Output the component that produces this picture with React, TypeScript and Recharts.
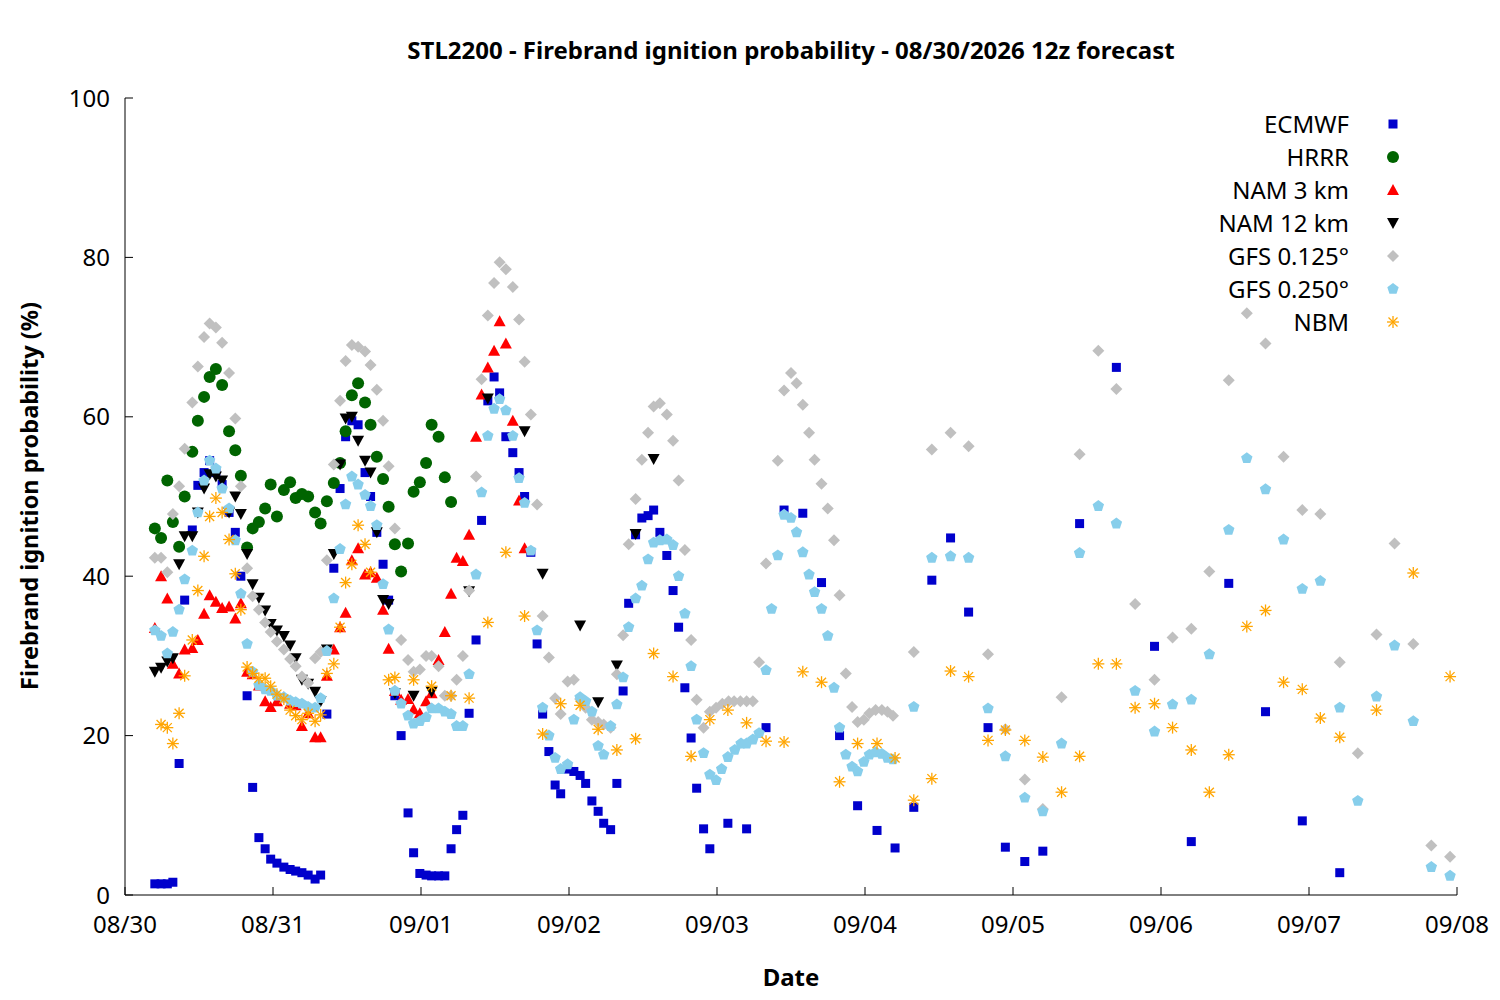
import React from "react"
import { ScatterChart, Scatter, XAxis, YAxis } from "recharts"

// Times below were read in chart units of 1/24 of 166.5 px; one real hour is 148/24 px,
// so each time is converted to hours since 08/30 00z with HOUR_SCALE.
const HOUR_SCALE = 166.5 / 148

// [time, probability %]
const ecmwf: [number, number][] = [
  [4.3, 1.4], [5.2, 1.4], [6.1, 1.4], [6.9, 1.6], [7.8, 16.5], [8.6, 37], [9.7, 45.8], [10.5, 51.4], [11.4, 53], [12.2, 54.5],
  [13.1, 53], [14.0, 51.5], [15.0, 48], [15.9, 45.5], [16.7, 40], [17.6, 25], [18.4, 13.5], [19.3, 7.2], [20.2, 5.8], [21.0, 4.5],
  [21.9, 4], [22.9, 3.5], [23.8, 3.2], [24.6, 3], [25.5, 2.8], [26.4, 2.5], [27.4, 2.0], [28.2, 2.5], [29.1, 22.7], [30.1, 41],
  [31.0, 51], [31.8, 57.5], [32.7, 59.5], [33.6, 59], [34.6, 53], [35.4, 50], [36.3, 45.5], [37.2, 41.5], [38.0, 37], [38.9, 25],
  [39.8, 20], [40.8, 10.3], [41.6, 5.3], [42.5, 2.7], [43.4, 2.5], [44.2, 2.4], [45.2, 2.4], [46.1, 2.4], [47.0, 5.8], [47.8, 8.2],
  [48.7, 10], [49.6, 22.8], [50.6, 32], [51.4, 47], [52.3, 62], [53.2, 65], [54.0, 63], [54.9, 57.5], [55.9, 55.5], [56.8, 53],
  [57.6, 50], [58.5, 43], [59.4, 31.5], [60.2, 22.7], [61.1, 18], [62.0, 13.8], [62.8, 12.7], [63.8, 15.8], [64.7, 15.5], [65.6, 15],
  [66.4, 14], [67.3, 11.8], [68.2, 10.5], [69.0, 9], [70.0, 8.2], [70.9, 14], [71.8, 25.6], [72.6, 36.6], [73.6, 45.2], [74.5, 47.3],
  [75.4, 47.6], [76.2, 48.3], [77.1, 45.5], [78.1, 42.6], [79.0, 38.2], [79.8, 33.6], [80.7, 26], [81.6, 19.7], [82.4, 13.4], [83.4, 8.3],
  [84.3, 5.8], [86.9, 9], [89.6, 8.3], [92.4, 21], [95.0, 48.3], [97.7, 47.9], [100.4, 39.2], [103.0, 20], [105.6, 11.2], [108.4, 8.1],
  [111.0, 5.9], [113.7, 11], [116.3, 39.5], [119.0, 44.8], [121.6, 35.5], [124.4, 21], [126.9, 6], [129.7, 4.2], [132.3, 5.5], [137.6, 46.6],
  [142.9, 66.2], [148.4, 31.2], [153.7, 6.7], [159.1, 39.1], [164.4, 23], [169.7, 9.3], [175.1, 2.8],
]

const hrrr: [number, number][] = [
  [4.3, 46], [5.2, 44.8], [6.1, 52], [6.9, 46.8], [7.8, 43.7], [8.6, 50], [9.7, 55.6], [10.5, 59.5], [11.4, 62.5], [12.2, 65],
  [13.1, 66], [14.0, 64], [15.0, 58.2], [15.9, 55.8], [16.7, 52.6], [17.6, 43.6], [18.4, 46], [19.3, 46.8], [20.2, 48.5], [21.0, 51.5],
  [21.9, 47.5], [22.9, 50.8], [23.8, 51.8], [24.6, 49.8], [25.5, 50.3], [26.4, 50], [27.4, 48], [28.2, 46.6], [29.1, 49.4], [30.1, 51.7],
  [31.0, 54.2], [31.8, 58.2], [32.7, 62.7], [33.6, 64.2], [34.6, 61.8], [35.4, 59], [36.3, 55], [37.2, 52.2], [38.0, 48.7], [38.9, 44],
  [39.8, 40.6], [40.8, 44.1], [41.6, 50.6], [42.5, 51.8], [43.4, 54.2], [44.2, 59], [45.2, 57.5], [46.1, 52.4], [47.0, 49.3],
]

const nam3: [number, number][] = [
  [4.3, 33.5], [5.2, 40], [6.1, 37.2], [6.9, 29], [7.8, 27.8], [8.6, 30.8], [9.7, 31], [10.5, 32], [11.4, 35.3], [12.2, 37.6],
  [13.1, 36.8], [14.0, 36], [15.0, 36.2], [15.9, 34.7], [16.7, 36.6], [17.6, 28], [18.4, 27.7], [19.3, 26.3], [20.2, 24.3], [21.0, 23.6],
  [21.9, 24.3], [22.9, 24.8], [23.8, 24], [24.6, 23.8], [25.5, 21.2], [26.4, 22.8], [27.4, 19.8], [28.2, 19.8], [29.1, 27.5], [30.1, 30.8],
  [31.0, 33.6], [31.8, 35.4], [32.7, 42], [33.6, 43.5], [34.6, 40.2], [35.4, 40.5], [36.3, 39.8], [37.2, 35.8], [38.0, 30.9], [38.9, 25.6],
  [39.8, 24.5], [40.8, 24.6], [41.6, 23.3], [42.5, 22.8], [43.4, 24.3], [44.2, 25.3], [45.2, 29.5], [46.1, 33], [47.0, 37.8], [47.8, 42.3],
  [48.7, 41.9], [49.6, 45.2], [50.6, 57.5], [51.4, 62.8], [52.3, 66.2], [53.2, 68.3], [54.0, 72], [54.9, 69.2], [55.9, 59.5], [56.8, 49.5],
  [57.6, 43.5],
]

const nam12: [number, number][] = [
  [4.3, 28], [5.2, 28.5], [6.1, 29.3], [6.9, 29.7], [7.8, 41.5], [8.6, 45], [9.7, 45], [10.5, 48], [11.4, 51], [12.2, 52.8],
  [13.1, 52.5], [14.0, 52], [15.0, 48], [15.9, 50], [16.7, 47.8], [17.6, 42.8], [18.4, 39], [19.3, 37.3], [20.2, 35.7], [21.0, 34],
  [21.9, 33.2], [22.9, 32.5], [23.8, 31.3], [24.6, 29.7], [25.5, 27], [26.4, 26.5], [27.4, 25.5], [28.2, 24.3], [29.1, 30.8], [30.1, 42.8],
  [31.0, 54], [31.8, 59.8], [32.7, 60], [33.6, 57], [34.6, 54.5], [35.4, 53], [36.3, 45.5], [37.2, 37], [38.0, 36.5], [38.9, 25.3],
  [41.6, 25], [44.2, 25.5], [49.6, 38.1], [52.3, 62.3], [57.6, 58.2], [60.2, 40.3], [65.6, 33.8], [68.2, 24.2], [70.9, 28.8], [73.6, 45.3],
  [76.2, 54.7],
]

const gfs0125: [number, number][] = [
  [4.3, 42.3], [5.2, 42.3], [6.1, 40.5], [6.9, 47.8], [7.8, 51.3], [8.6, 56], [9.7, 61.8], [10.5, 66.3], [11.4, 70], [12.2, 71.7],
  [13.1, 71.2], [14.0, 69.3], [15.0, 65.5], [15.9, 59.8], [16.7, 51.3], [17.6, 41], [18.4, 37.5], [19.3, 35.8], [20.2, 34.2], [21.0, 33],
  [21.9, 31.8], [22.9, 30.8], [23.8, 29.6], [24.6, 28.7], [25.5, 27.4], [26.4, 26.6], [27.4, 29.7], [28.2, 30.5], [29.1, 42], [30.1, 54],
  [31.0, 62], [31.8, 67], [32.7, 69], [33.6, 68.8], [34.6, 68.2], [35.4, 66.5], [36.3, 63.4], [37.2, 59.5], [38.0, 53.8], [38.9, 46],
  [39.8, 32], [40.8, 29.5], [41.6, 28], [42.5, 28.3], [43.4, 30], [44.2, 30], [45.2, 28.7], [46.1, 25], [47.0, 25], [47.8, 27],
  [48.7, 30], [49.6, 38.2], [50.6, 52.5], [51.4, 64.7], [52.3, 72.7], [53.2, 76.8], [54.0, 79.4], [54.9, 78.5], [55.9, 76.3], [56.8, 72.2],
  [57.6, 66.9], [58.5, 60.3], [59.4, 49], [60.2, 35], [61.1, 29.8], [62.0, 24.7], [62.8, 22.7], [63.8, 26.8], [64.7, 27], [65.6, 24.6],
  [66.4, 23.5], [67.3, 22], [68.2, 21.7], [69.0, 21.4], [70.0, 21], [70.9, 27.7], [71.8, 32.6], [72.6, 44], [73.6, 49.7], [74.5, 54.6],
  [75.4, 58], [76.2, 61.3], [77.1, 61.7], [78.1, 60.3], [79.0, 57], [79.8, 52], [80.7, 43.3], [81.6, 32], [82.4, 24.5], [83.4, 21],
  [84.3, 23], [85.2, 23.5], [86.1, 24], [87.0, 24.3], [87.8, 24.3], [88.7, 24.3], [89.6, 24.3], [90.5, 24.3], [91.4, 29.2], [92.4, 41.6],
  [94.1, 54.5], [95.0, 63.3], [96.0, 65.5], [96.8, 64.2], [97.7, 61.5], [98.6, 58], [99.4, 54.6], [100.4, 51.6], [101.3, 48.5], [102.2, 44.5],
  [103.0, 37.6], [103.9, 27.8], [104.8, 23.6], [105.6, 21.7], [106.5, 22], [107.3, 22.8], [108.2, 23.2], [109.1, 23.2], [109.9, 23], [110.7, 22.5],
  [113.7, 30.5], [116.3, 55.9], [119.0, 58], [121.6, 56.3], [124.4, 30.2], [126.9, 20.8], [129.7, 14.5], [132.3, 10.8], [135.0, 24.8], [137.6, 55.3],
  [140.3, 68.3], [142.9, 63.5], [145.6, 36.5], [148.4, 27], [151.0, 32.3], [153.7, 33.4], [156.3, 40.6], [159.1, 64.6], [161.7, 73], [164.4, 69.2],
  [167.0, 55], [169.7, 48.3], [172.3, 47.8], [175.1, 29.2], [177.7, 17.8], [180.4, 32.7], [183.0, 44.1], [185.7, 31.5], [188.3, 6.2], [191.0, 4.8],
]

const gfs0250: [number, number][] = [
  [4.3, 33.2], [5.2, 32.5], [6.1, 30.3], [6.9, 33], [7.8, 35.8], [8.6, 39.6], [9.7, 43.2], [10.5, 48], [11.4, 52], [12.2, 54.5],
  [13.1, 53.5], [14.0, 51], [15.0, 48.5], [15.9, 44.5], [16.7, 37.8], [17.6, 31.5], [18.4, 28], [19.3, 26.3], [20.2, 25.8], [21.0, 25.6],
  [21.9, 25], [22.9, 24.8], [23.8, 24.4], [24.6, 24.2], [25.5, 24], [26.4, 23.6], [27.4, 23.5], [28.2, 24.7], [29.1, 30.6], [30.1, 37.2],
  [31.0, 43.4], [31.8, 49], [32.7, 52.5], [33.6, 51.5], [34.6, 50.2], [35.4, 48.8], [36.3, 46.4], [37.2, 39], [38.0, 33.3], [38.9, 25.6],
  [39.8, 24], [40.8, 22.5], [41.6, 21.5], [42.5, 21.8], [43.4, 22.3], [44.2, 23.4], [45.2, 23.4], [46.1, 23], [47.0, 22.7], [47.8, 21.2],
  [48.7, 21.2], [49.6, 27.7], [50.6, 40.2], [51.4, 50.5], [52.3, 57.6], [53.2, 61], [54.0, 62.2], [54.9, 60.8], [55.9, 57.6], [56.8, 52.3],
  [57.6, 49.2], [58.5, 43.2], [59.4, 33.2], [60.2, 23.5], [61.1, 20], [62.0, 17.2], [62.8, 15.8], [63.8, 16.4], [64.7, 22], [65.6, 24.8],
  [66.4, 24.3], [67.3, 23], [68.2, 18.7], [69.0, 17.6], [70.0, 21.2], [70.9, 23.9], [71.8, 27.3], [72.6, 33.6], [73.6, 37.2], [74.5, 38.8],
  [75.4, 42.1], [76.2, 44.2], [77.1, 44.5], [78.1, 44.6], [79.0, 43.9], [79.8, 40], [80.7, 35.3], [81.6, 28.7], [82.4, 22], [83.4, 17.8],
  [84.3, 15.1], [85.2, 14.4], [86.0, 15.8], [86.9, 17.3], [87.9, 18.2], [88.8, 19], [89.6, 19], [90.5, 19.5], [91.4, 20.3], [92.4, 28.2],
  [93.2, 35.9], [94.1, 42.6], [95.0, 47.7], [96.0, 47.3], [96.8, 45.5], [97.7, 43], [98.6, 40.2], [99.4, 38], [100.4, 35.9], [101.3, 32.5],
  [102.2, 26], [103.0, 21], [103.9, 17.6], [104.8, 16.1], [105.6, 15.5], [106.5, 16.7], [107.3, 17.6], [108.2, 17.9], [109.1, 17.7], [109.9, 17.2],
  [110.7, 17], [113.7, 23.6], [116.3, 42.3], [119.0, 42.5], [121.6, 42.3], [124.4, 23.4], [126.9, 17.4], [129.7, 12.2], [132.3, 10.5], [135.0, 19],
  [137.6, 42.9], [140.3, 48.8], [142.9, 46.6], [145.6, 25.6], [148.4, 20.5], [151.0, 23.9], [153.7, 24.5], [156.3, 30.2], [159.1, 45.8], [161.7, 54.8],
  [164.4, 50.9], [167.0, 44.6], [169.7, 38.4], [172.3, 39.4], [175.1, 23.5], [177.7, 11.8], [180.4, 24.9], [183.0, 31.3], [185.7, 21.8], [188.3, 3.5],
  [191.0, 2.4],
]

const nbm: [number, number][] = [
  [5.2, 21.4], [6.1, 21], [6.9, 19], [7.8, 22.8], [8.6, 27.5], [9.7, 32], [10.5, 38.2], [11.4, 42.5], [12.2, 47.5], [13.1, 49.8],
  [14.0, 48], [15.0, 44.6], [15.9, 40.3], [16.7, 35.8], [17.6, 28.6], [18.4, 27.8], [19.3, 27.2], [20.2, 27.2], [21.0, 26.2], [21.9, 25.2],
  [22.9, 24.6], [23.8, 23.2], [24.6, 22.5], [25.5, 22], [26.4, 22.8], [27.4, 21.8], [28.2, 22.6], [29.1, 27.8], [30.1, 29], [31.0, 33.6],
  [31.8, 39.2], [32.7, 41.5], [33.6, 46.4], [34.6, 44], [35.4, 40.5], [38.0, 27], [38.9, 27.3], [41.6, 27], [44.2, 26.2], [47.0, 25],
  [49.6, 24.7], [52.3, 34.2], [54.9, 43], [57.6, 35], [60.2, 20.2], [62.8, 24], [65.6, 23.8], [68.2, 20.8], [70.9, 18.2], [73.6, 19.6],
  [76.2, 30.3], [79.0, 27.4], [81.6, 17.4], [84.3, 22], [86.9, 23.2], [89.6, 21.6], [92.4, 19.3], [95.0, 19.2], [97.7, 28], [100.4, 26.7],
  [103.0, 14.2], [105.6, 19], [108.4, 19], [111.0, 17.2], [113.7, 11.9], [116.3, 14.6], [119.0, 28.1], [121.6, 27.4], [124.4, 19.4], [126.9, 20.7],
  [129.7, 19.4], [132.3, 17.3], [135.0, 12.9], [137.6, 17.4], [140.3, 29], [142.9, 29], [145.6, 23.5], [148.4, 24], [151.0, 21], [153.7, 18.2],
  [156.3, 12.9], [159.1, 17.6], [161.7, 33.7], [164.4, 35.7], [167.0, 26.7], [169.7, 25.8], [172.3, 22.2], [175.1, 19.8], [180.4, 23.2], [185.7, 40.4],
  [191.0, 27.4],
]

const xTicks = [0, 24, 48, 72, 96, 120, 144, 168, 192, 216]
const xTickLabels = ["08/30", "08/31", "09/01", "09/02", "09/03", "09/04", "09/05", "09/06", "09/07", "09/08"]
const yTicks = [0, 20, 40, 60, 80, 100]

const FONT = "'Noto Sans', sans-serif"

type Sym = "square" | "circle" | "up" | "down" | "diamond" | "pentagon" | "star"

const drawSymbol = (kind: Sym, color: string, cx: number, cy: number) => {
  switch (kind) {
    case "square":
      return <rect x={cx - 4.5} y={cy - 4.5} width={9} height={9} fill={color} />
    case "circle":
      return <circle cx={cx} cy={cy} r={6} fill={color} />
    case "up":
      return <polygon points={`${cx},${cy - 6} ${cx - 6},${cy + 5} ${cx + 6},${cy + 5}`} fill={color} />
    case "down":
      return <polygon points={`${cx},${cy + 6} ${cx - 6},${cy - 5} ${cx + 6},${cy - 5}`} fill={color} />
    case "diamond":
      return <polygon points={`${cx},${cy - 6} ${cx + 6},${cy} ${cx},${cy + 6} ${cx - 6},${cy}`} fill={color} />
    case "pentagon": {
      const pts = [0, 1, 2, 3, 4]
        .map((i) => {
          const a = -Math.PI / 2 + (i * 2 * Math.PI) / 5
          return `${cx + 6 * Math.cos(a)},${cy + 6 * Math.sin(a)}`
        })
        .join(" ")
      return <polygon points={pts} fill={color} />
    }
    case "star":
      return (
        <g stroke={color} strokeWidth={1.3}>
          <line x1={cx - 6} y1={cy} x2={cx + 6} y2={cy} />
          <line x1={cx} y1={cy - 6} x2={cx} y2={cy + 6} />
          <line x1={cx - 4.5} y1={cy - 4.5} x2={cx + 4.5} y2={cy + 4.5} />
          <line x1={cx - 4.5} y1={cy + 4.5} x2={cx + 4.5} y2={cy - 4.5} />
        </g>
      )
  }
}

const toHours = (d: [number, number][]) => d.map(([t, v]) => ({ t: t * HOUR_SCALE, v }))

const series: { name: string; data: [number, number][]; kind: Sym; color: string }[] = [
  { name: "ECMWF", data: ecmwf, kind: "square", color: "#0000cc" },
  { name: "HRRR", data: hrrr, kind: "circle", color: "#006400" },
  { name: "NAM 3 km", data: nam3, kind: "up", color: "#ff0000" },
  { name: "NAM 12 km", data: nam12, kind: "down", color: "#000000" },
  { name: "GFS 0.125°", data: gfs0125, kind: "diamond", color: "#c0c0c0" },
  { name: "GFS 0.250°", data: gfs0250, kind: "pentagon", color: "#87ceeb" },
  { name: "NBM", data: nbm, kind: "star", color: "#ffa500" },
]

const App: React.FC = () => {
  return (
    <div style={{ position: "relative", width: 1484, height: 984, fontFamily: FONT }}>
      <div style={{ position: "absolute", left: 117, width: 1332, top: 25, textAlign: "center", fontSize: 24, fontWeight: "bold" }}>
        STL2200 - Firebrand ignition probability - 08/30/2026 12z forecast
      </div>
      <div
        style={{
          position: "absolute", left: 21, top: 488, fontSize: 23.5, fontWeight: "bold", whiteSpace: "nowrap",
          transform: "translate(-50%, -50%) rotate(-90deg)",
        }}
      >
        Firebrand ignition probability (%)
      </div>
      <div style={{ position: "absolute", left: 117, width: 1332, top: 952, textAlign: "center", fontSize: 24, fontWeight: "bold" }}>
        Date
      </div>
      <ScatterChart width={1484} height={984} margin={{ top: 90, right: 35, bottom: 27, left: 57 }}>
        <XAxis
          type="number" dataKey="t" domain={[0, 216]} ticks={xTicks} allowDataOverflow
          tickFormatter={(v: number) => xTickLabels[v / 24]}
          tick={{ fontSize: 24, fill: "#000", fontFamily: FONT }} tickSize={-8} tickMargin={29}
          stroke="#000" height={70}
        />
        <XAxis xAxisId="top" orientation="top" type="number" domain={[0, 216]} ticks={xTicks} tick={false} tickSize={-8} stroke="#000" height={0} />
        <YAxis
          type="number" dataKey="v" domain={[0, 100]} ticks={yTicks}
          tick={{ fontSize: 24, fill: "#000", fontFamily: FONT }} tickSize={-8} tickMargin={23}
          stroke="#000" width={60}
        />
        <YAxis yAxisId="right" orientation="right" type="number" domain={[0, 100]} ticks={yTicks} tick={false} tickSize={-8} stroke="#000" width={0} />
        {series.map((s) => (
          <Scatter
            key={s.name} name={s.name} data={toHours(s.data)} isAnimationActive={false}
            shape={(p: any) => drawSymbol(s.kind, s.color, p.cx, p.cy)}
          />
        ))}
      </ScatterChart>
      <div style={{ position: "absolute", left: 1050, top: 99, width: 350 }}>
        {series.map((s) => (
          <div key={s.name} style={{ display: "flex", alignItems: "center", justifyContent: "flex-end", height: 33, fontSize: 24 }}>
            <span>{s.name}</span>
            <svg width={54} height={20} style={{ marginLeft: 5 }}>
              {drawSymbol(s.kind, s.color, 39, 10)}
            </svg>
          </div>
        ))}
      </div>
    </div>
  )
}

export default App
